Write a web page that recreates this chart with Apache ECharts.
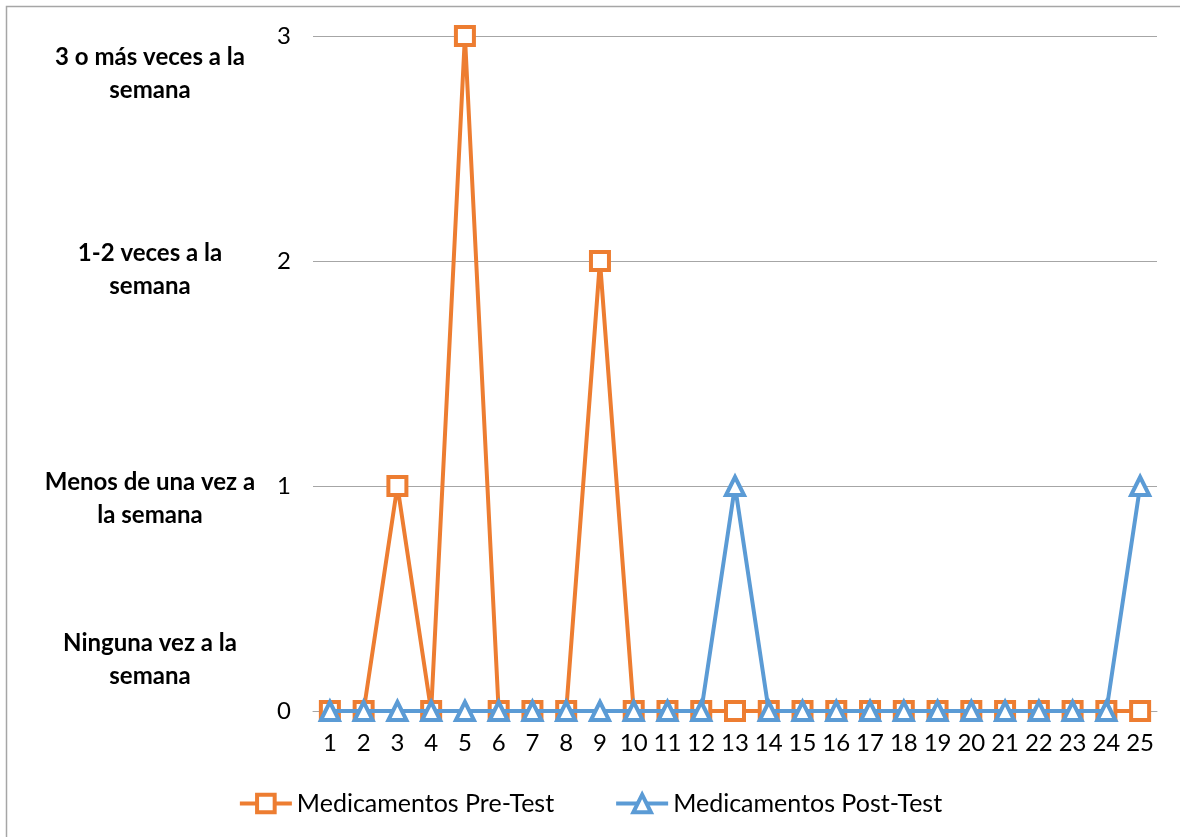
<!DOCTYPE html>
<html>
<head>
<meta charset="utf-8">
<script src="https://cdn.jsdelivr.net/npm/echarts@6/dist/echarts.min.js"></script>
<style>
  html, body { margin: 0; padding: 0; background: #fff; }
  #chart { width: 1180px; height: 837px; }
</style>
</head>
<body>
<div id="chart"></div>
<script>
// Participants 1..25
const categories = ['1','2','3','4','5','6','7','8','9','10','11','12','13','14','15','16','17','18','19','20','21','22','23','24','25'];
// Frequency of medication use (0 = none … 3 = 3 or more times per week)
const preTest  = [0,0,1,0,3,0,0,0,2,0,0,0,0,0,0,0,0,0,0,0,0,0,0,0,0];
const postTest = [0,0,0,0,0,0,0,0,0,0,0,0,1,0,0,0,0,0,0,0,0,0,0,0,1];
const seriesNames = ['Medicamentos Pre-Test', 'Medicamentos Post-Test'];
// Frequency scale descriptions shown beside the value axis
const levelLabels = [
  ['3 o más veces a la', 'semana'],
  ['1-2 veces a la', 'semana'],
  ['Menos de una vez a', 'la semana'],
  ['Ninguna vez a la', 'semana']
];
const levelLabelY = [74, 270, 499, 660];

const FONT = 'Lato, "Open Sans", sans-serif';
const ORANGE = '#ED7D31';
const BLUE = '#5B9BD5';

const chart = echarts.init(document.getElementById('chart'), null, { renderer: 'canvas' });

const graphics = [
  // chart frame (left and top edges visible)
  { type: 'rect', shape: { x: 6.5, y: 6.5, width: 1300, height: 1000 },
    style: { fill: 'none', stroke: '#a6a6a6', lineWidth: 1.5 }, silent: true }
];
levelLabels.forEach((lines, i) => {
  graphics.push({
    type: 'text', silent: true,
    x: 150, y: levelLabelY[i],
    style: {
      text: lines.join('\n'),
      align: 'center', verticalAlign: 'middle',
      font: 'bold 24px ' + FONT, lineHeight: 33, fill: '#000'
    }
  });
});

chart.setOption({
  animation: false,
  backgroundColor: '#fff',
  textStyle: { fontFamily: FONT },
  grid: { left: 313, right: 23, top: 36, bottom: 126, containLabel: false },
  legend: {
    top: 786, left: 'center', itemGap: 60,
    itemWidth: 52, itemHeight: 22,
    textStyle: { fontSize: 25, color: '#000', fontFamily: FONT },
    data: [
      { name: seriesNames[0], lineStyle: { width: 4, color: ORANGE },
        itemStyle: { color: '#fff', borderColor: ORANGE, borderWidth: 4 } },
      { name: seriesNames[1], lineStyle: { width: 4, color: BLUE },
        itemStyle: { color: '#fff', borderColor: BLUE, borderWidth: 4 } }
    ]
  },
  xAxis: {
    type: 'category', data: categories, boundaryGap: true,
    axisLine: { lineStyle: { color: '#a6a6a6', width: 1 } },
    axisTick: { show: false },
    axisLabel: { fontSize: 24, color: '#000', margin: 20, interval: 0, fontFamily: FONT }
  },
  yAxis: {
    type: 'value', min: 0, max: 3, interval: 1,
    axisLine: { show: false }, axisTick: { show: false },
    splitLine: { lineStyle: { color: '#a6a6a6', width: 1 } },
    axisLabel: { fontSize: 24, color: '#000', margin: 22, fontFamily: FONT }
  },
  graphic: graphics,
  series: [
    {
      name: seriesNames[0], type: 'line', data: preTest,
      symbol: 'rect', symbolSize: 18,
      lineStyle: { color: ORANGE, width: 4 },
      itemStyle: { color: '#fff', borderColor: ORANGE, borderWidth: 4 },
      z: 2
    },
    {
      name: seriesNames[1], type: 'line', data: postTest,
      symbol: 'triangle', symbolSize: 18,
      lineStyle: { color: BLUE, width: 4 },
      itemStyle: { color: '#fff', borderColor: BLUE, borderWidth: 4 },
      z: 3
    }
  ]
});
</script>
</body>
</html>
